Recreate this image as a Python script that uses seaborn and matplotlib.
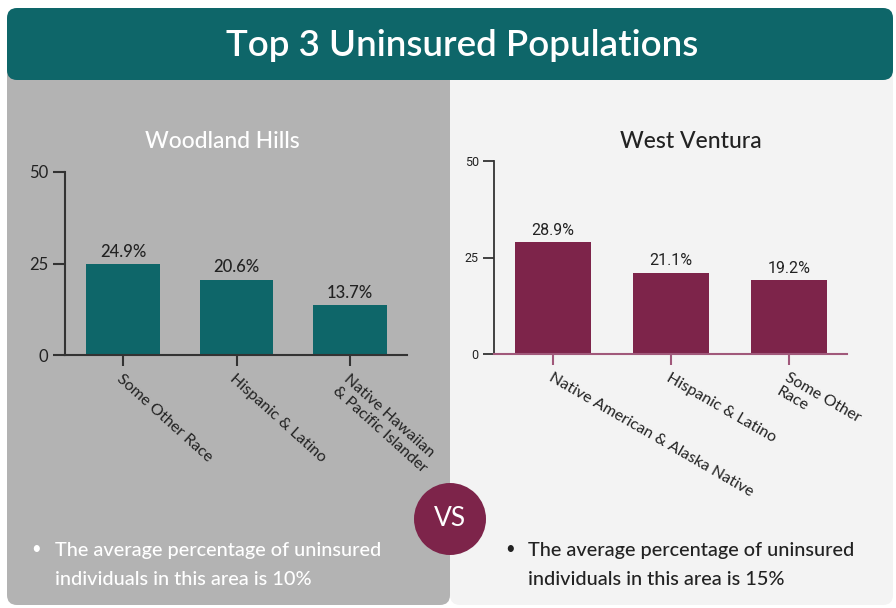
import seaborn as sns
import matplotlib.pyplot as plt
from matplotlib.patches import FancyBboxPatch, Circle

# --- data ---
left_title = "Woodland Hills"
left_cats = ["Some Other Race", "Hispanic & Latino", "Native Hawaiian\n& Pacific Islander"]
left_vals = [24.9, 20.6, 13.7]

right_title = "West Ventura"
right_cats = ["Native American & Alaska Native", "Hispanic & Latino", "Some Other\nRace"]
right_vals = [28.9, 21.1, 19.2]

y_ticks = [0, 25, 50]
left_note = "The average percentage of uninsured\nindividuals in this area is 10%"
right_note = "The average percentage of uninsured\nindividuals in this area is 15%"

# --- colours ---
TEAL = "#0e6669"
MAROON = "#7d244a"
GRAY_PANEL = "#b3b3b3"
LIGHT_PANEL = "#f3f3f3"
INK = "#222222"

sns.set_theme(style="white")
plt.rcParams["font.family"] = ["Lato", "DejaVu Sans"]
NARROW = ["Liberation Sans Narrow", "Roboto", "DejaVu Sans"]

W, H = 896, 608
fig = plt.figure(figsize=(W / 100, H / 100), dpi=100)
fig.patch.set_facecolor("white")

# background layer in pixel coordinates
bg = fig.add_axes([0, 0, 1, 1], zorder=0)
bg.set_xlim(0, W)
bg.set_ylim(H, 0)
bg.axis("off")

bg.add_patch(FancyBboxPatch((450, 60), 443, 545, boxstyle="round,pad=0,rounding_size=10",
                            facecolor=LIGHT_PANEL, edgecolor="none"))
bg.add_patch(FancyBboxPatch((7, 60), 443, 545, boxstyle="round,pad=0,rounding_size=10",
                            facecolor=GRAY_PANEL, edgecolor="none"))
bg.add_patch(FancyBboxPatch((7, 8), 886, 72, boxstyle="round,pad=0,rounding_size=10",
                            facecolor=TEAL, edgecolor="none"))
bg.text(462, 45, "Top 3 Uninsured Populations", color="white", fontsize=26.5,
        ha="center", va="center", fontweight="semibold")

bg.text(222, 141, left_title, color="white", fontsize=16.5, ha="center", va="center",
        fontweight="medium")
bg.text(691, 141, right_title, color=INK, fontsize=16.5, ha="center", va="center",
        fontweight="medium")

# VS badge
bg.add_patch(Circle((450, 519), 36, facecolor=MAROON, edgecolor="none"))
bg.text(450, 519, "VS", color="white", fontsize=19, ha="center", va="center")

# bullet notes
bg.text(36, 549, "\u2022", color="white", fontsize=12, ha="center", va="center")
bg.text(55, 565, left_note, color="white", fontsize=14.3, ha="left", va="center",
        linespacing=1.9, fontweight="medium")
bg.text(510, 549, "\u2022", color=INK, fontsize=12, ha="center", va="center")
bg.text(528, 565, right_note, color=INK, fontsize=14.3, ha="left", va="center",
        linespacing=1.9, fontweight="medium")


def px_axes(x0, x1, y_top, y_bot):
    return fig.add_axes([x0 / W, 1 - y_bot / H, (x1 - x0) / W, (y_bot - y_top) / H], zorder=2)


# --- left chart ---
ax1 = px_axes(65, 407, 172, 355)
sns.barplot(x=left_cats, y=left_vals, color=TEAL, saturation=1, width=0.65,
            linewidth=0, ax=ax1)
ax1.set_facecolor("none")
ax1.set_xlim(-0.51, 2.5)
ax1.set_ylim(0, 50)
ax1.set_yticks(y_ticks)
ax1.tick_params(axis="y", length=9, width=1.5, color="#333333", labelsize=12,
                labelcolor=INK, pad=3, left=True)
ax1.tick_params(axis="x", length=8, width=1.5, color="#333333", pad=4, bottom=True)
ax1.set_xticks(range(len(left_cats)))
ax1.set_xticklabels(left_cats, rotation=-42, ha="left", va="top", rotation_mode="anchor",
                    fontsize=11.5, color=INK)
for side in ["top", "right"]:
    ax1.spines[side].set_visible(False)
for side in ["left", "bottom"]:
    ax1.spines[side].set_color("#333333")
    ax1.spines[side].set_linewidth(1.5)
ax1.bar_label(ax1.containers[0], labels=[f"{v}%" for v in left_vals], padding=3,
              fontsize=12, color=INK, fontweight="medium")
ax1.set_xlabel("")
ax1.set_ylabel("")

# --- right chart ---
ax2 = px_axes(494, 847, 161, 354)
sns.barplot(x=right_cats, y=right_vals, color=MAROON, saturation=1, width=0.64,
            linewidth=0, ax=ax2)
ax2.set_facecolor("none")
ax2.set_xlim(-0.5, 2.49)
ax2.set_ylim(0, 50)
ax2.set_yticks(y_ticks)
ax2.set_yticklabels([str(t) for t in y_ticks], family=NARROW, fontsize=9, color=INK)
ax2.tick_params(axis="y", length=8, width=1.3, color="#333333", pad=3, left=True)
ax2.tick_params(axis="x", length=8, width=1.5, color="#a0587a", pad=4, bottom=True)
ax2.set_xticks(range(len(right_cats)))
ax2.set_xticklabels(right_cats, rotation=-30, ha="left", va="top", rotation_mode="anchor",
                    fontsize=11.5, color=INK)
for side in ["top", "right"]:
    ax2.spines[side].set_visible(False)
ax2.spines["left"].set_color("#333333")
ax2.spines["left"].set_linewidth(1.3)
ax2.spines["bottom"].set_color("#a0587a")
ax2.spines["bottom"].set_linewidth(1.5)
ax2.bar_label(ax2.containers[0], labels=[f"{v}%" for v in right_vals], padding=3,
              fontsize=11.5, color=INK, family=NARROW)
ax2.set_xlabel("")
ax2.set_ylabel("")

fig.savefig("out.png", dpi=100)
